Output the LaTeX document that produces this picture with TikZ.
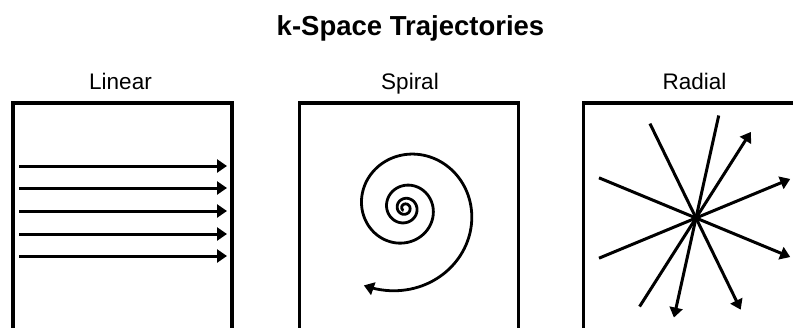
\documentclass[tikz,border=0pt]{standalone}
\usepackage{fontspec}
\setmainfont{Liberation Sans}
\usetikzlibrary{arrows.meta, calc}
\definecolor{ink}{HTML}{000000}
\definecolor{paper}{HTML}{FFFFFF}
\tikzset{
  panel/.style={
    draw=ink, line width=3.2pt, minimum width=219pt, minimum height=240pt,
    inner sep=0pt
  },
  traj/.style={draw=ink, line width=3pt, -{Triangle[length=10pt, width=13pt]}},
  traj-plain/.style={draw=ink, line width=2.8pt},
  title-label/.style={font=\fontsize{27.5}{30}\selectfont\bfseries, anchor=base},
  panel-label/.style={font=\fontsize{22.5}{26}\selectfont, anchor=base}
}

\begin{document}
\begin{tikzpicture}[x=1pt, y=-1pt]

  \clip (0,0) rectangle (793,327);
  \fill[paper] (0,0) rectangle (793,327);

  % ---- Title and panel labels ----------------------------------------------
  \node[title-label] (title)      at (410.5, 35) {k-Space Trajectories};
  \node[panel-label] (lbl-linear) at (120.5, 89) {Linear};
  \node[panel-label] (lbl-spiral) at (410.0, 89) {Spiral};
  \node[panel-label] (lbl-radial) at (694.5, 89) {Radial};

  % ---- Panels (cut off at the bottom edge) ---------------------------------
  \node[panel] (box-linear) at (122.5, 223) {};
  \node[panel] (box-spiral) at (409.0, 223) {};
  \node[panel] (box-radial) at (693.0, 223) {};

  % ---- Linear: parallel lines ----------------------------------------------
  \foreach \y in {166, 188, 211, 234, 256}
    \draw[traj] (19, \y) -- (227, \y);

  % ---- Spiral: clockwise, growing outwards ---------------------------------
  \coordinate (eye) at (405, 208);
  \draw[traj-plain, -{Triangle[length=10pt, width=13pt]}]
    plot[domain=-600:838, samples=500, smooth, variable=\t]
      ({405 + 82*exp(0.002374*(\t-810))*cos(\t)},
       {208 + 82*exp(0.002374*(\t-810))*sin(\t)});

  % ---- Radial: lines through the hub ---------------------------------------
  \coordinate (hub) at (696, 218);
  \foreach \a in {-57.5, -22.5, 22.5, 64, 102.5}
    \draw[traj] ($(hub)+(\a+180:105)$) -- ($(hub)+(\a:102)$);

\end{tikzpicture}
\end{document}
